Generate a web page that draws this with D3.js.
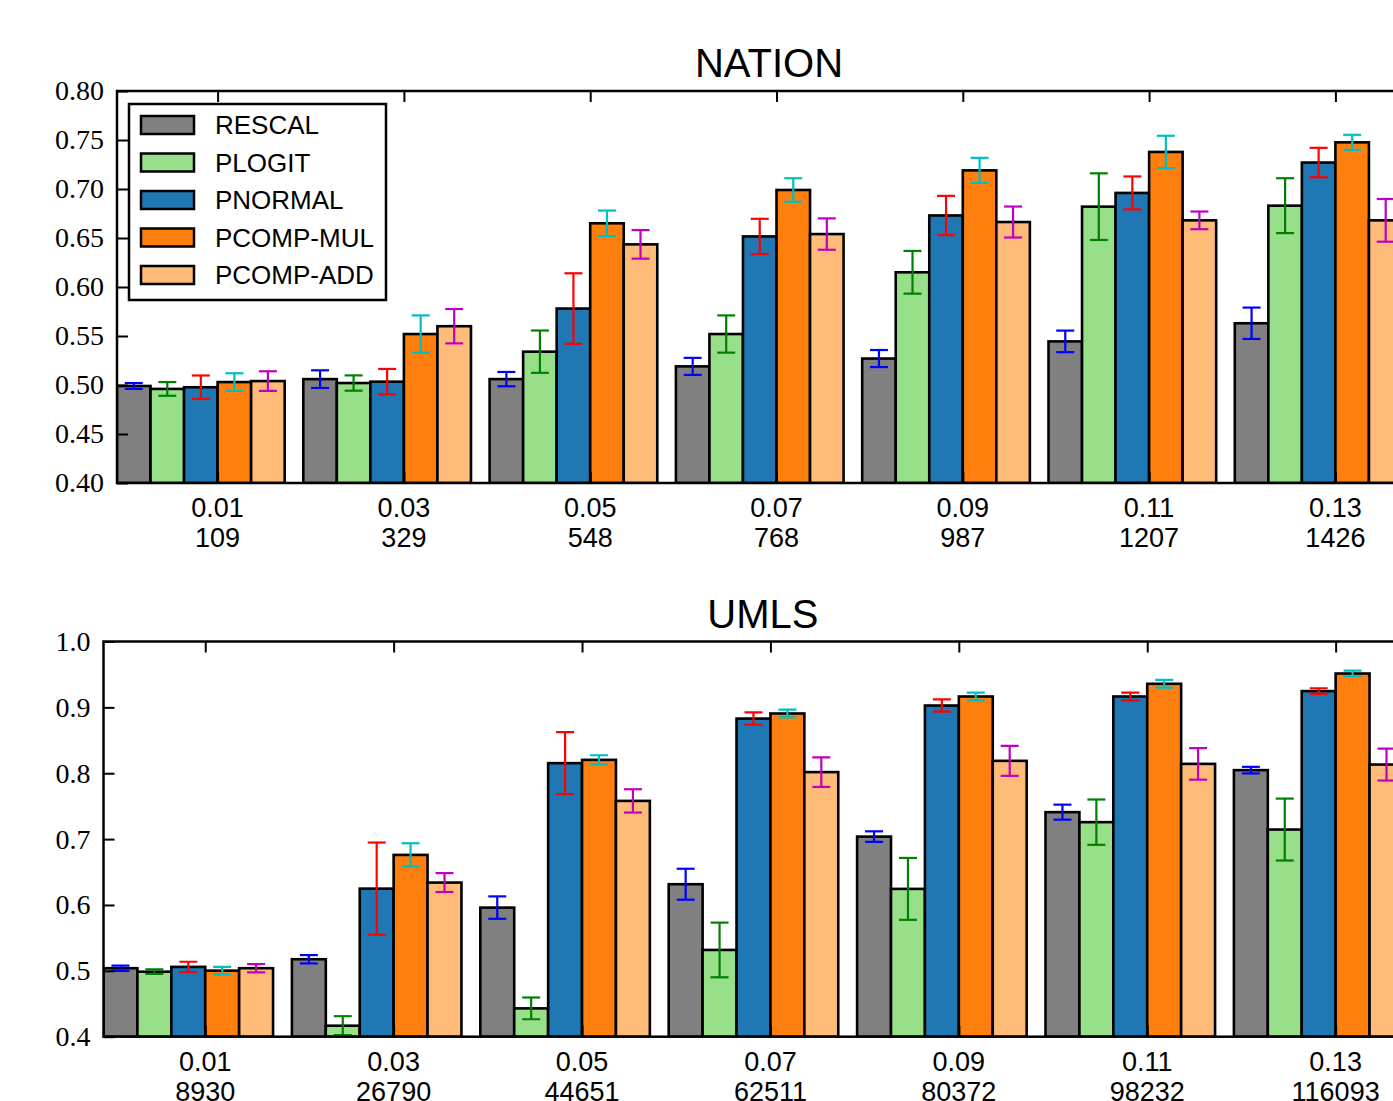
<!DOCTYPE html>
<html>
<head>
<meta charset="utf-8">
<script src="https://cdn.jsdelivr.net/npm/d3@7"></script>
<style>
  html, body { margin: 0; padding: 0; background: #fff; overflow: hidden; }
  svg { display: block; }
</style>
</head>
<body>
<svg id="chart" width="1393" height="1101"></svg>
<script>
// methods compared, one bar per method in every group
var methods = ["RESCAL", "PLOGIT", "PNORMAL", "PCOMP-MUL", "PCOMP-ADD"];
var fills = ["#808080", "#98df8a", "#1f77b4", "#ff7f0e", "#ffbb78"];
var errColors = ["#0000ff", "#008000", "#ff0000", "#00bfbf", "#bf00bf"];

// x tick labels (ratio / number of observed entries)
var ratios = ["0.01", "0.03", "0.05", "0.07", "0.09", "0.11", "0.13"];
var nationCounts = ["109", "329", "548", "768", "987", "1207", "1426"];
var umlsCounts = ["8930", "26790", "44651", "62511", "80372", "98232", "116093"];

// NATION means and errors, one array per method
var nationRescal = [0.499, 0.506, 0.506, 0.519, 0.527, 0.5445, 0.563];
var nationRescalErr = [0.003, 0.009, 0.0073, 0.0087, 0.0087, 0.011, 0.016];
var nationPlogit = [0.496, 0.502, 0.534, 0.552, 0.615, 0.682, 0.683];
var nationPlogitErr = [0.007, 0.0078, 0.0216, 0.019, 0.0218, 0.034, 0.028];
var nationPnormal = [0.4977, 0.5034, 0.578, 0.6516, 0.673, 0.696, 0.727];
var nationPnormalErr = [0.012, 0.013, 0.036, 0.018, 0.020, 0.0168, 0.015];
var nationMul = [0.503, 0.552, 0.665, 0.699, 0.719, 0.7378, 0.7476];
var nationMulErr = [0.009, 0.019, 0.013, 0.012, 0.0128, 0.0165, 0.0077];
var nationAdd = [0.504, 0.560, 0.6435, 0.654, 0.6663, 0.668, 0.668];
var nationAddErr = [0.010, 0.0175, 0.0146, 0.016, 0.0158, 0.009, 0.0218];

// UMLS means and errors
var umlsRescal = [0.504, 0.5176, 0.596, 0.6315, 0.7038, 0.7409, 0.8047];
var umlsRescalErr = [0.004, 0.0063, 0.017, 0.0235, 0.008, 0.0114, 0.005];
var umlsPlogit = [0.4987, 0.4167, 0.443, 0.5317, 0.6244, 0.7257, 0.7145];
var umlsPlogitErr = [0.0035, 0.0144, 0.0165, 0.0415, 0.047, 0.0344, 0.047];
var umlsPnormal = [0.506, 0.6248, 0.8153, 0.883, 0.9028, 0.9165, 0.9247];
var umlsPnormalErr = [0.0078, 0.070, 0.047, 0.0094, 0.0094, 0.0058, 0.0043];
var umlsMul = [0.5003, 0.676, 0.8203, 0.8907, 0.9165, 0.9358, 0.9514];
var umlsMulErr = [0.0058, 0.0177, 0.007, 0.0058, 0.0058, 0.0058, 0.0043];
var umlsAdd = [0.504, 0.634, 0.758, 0.8017, 0.8188, 0.8142, 0.8132];
var umlsAddErr = [0.0063, 0.0144, 0.0177, 0.0225, 0.0228, 0.024, 0.0243];

var nationTicks = [0.40, 0.45, 0.50, 0.55, 0.60, 0.65, 0.70, 0.75, 0.80];
var umlsTicks = [0.4, 0.5, 0.6, 0.7, 0.8, 0.9, 1.0];

var barW = 0.18;   // bar width in group units
var svg = d3.select("#chart");

function drawPanel(opt) {
	var x = d3.scaleLinear().domain([0, ratios.length]).range([opt.left, opt.right]);
	var y = d3.scaleLinear().domain(opt.yDomain).range([opt.bottom, opt.top]);
	var g = svg.append("g");
	var clipId = "clip-" + opt.name;
	g.append("clipPath").attr("id", clipId).append("rect")
		.attr("x", opt.left).attr("y", opt.top)
		.attr("width", opt.right - opt.left).attr("height", opt.bottom - opt.top);
	var plot = g.append("g").attr("clip-path", "url(#" + clipId + ")");

	opt.means.forEach(function(vals, k) {
		var s = plot.append("g");
		s.selectAll("rect").data(vals).enter().append("rect")
			.attr("x", function(d, i) { return x(i + k * barW); })
			.attr("y", function(d) { return y(d); })
			.attr("width", x(barW) - x(0))
			.attr("height", function(d) { return opt.bottom - y(d); })
			.attr("fill", fills[k])
			.attr("stroke", "#000")
			.attr("stroke-width", 2.6);
		var eb = s.selectAll("g.err").data(vals).enter().append("g")
			.attr("stroke", errColors[k]).attr("stroke-width", 2.2);
		eb.each(function(d, i) {
			var e = opt.errs[k][i];
			var cx = x(i + (k + 0.5) * barW);
			var el = d3.select(this);
			el.append("line").attr("x1", cx).attr("x2", cx).attr("y1", y(d - e)).attr("y2", y(d + e));
			el.append("line").attr("x1", cx - 9).attr("x2", cx + 9).attr("y1", y(d - e)).attr("y2", y(d - e));
			el.append("line").attr("x1", cx - 9).attr("x2", cx + 9).attr("y1", y(d + e)).attr("y2", y(d + e));
		});
	});

	var tickPos = ratios.map(function(r, i) { return i + 3 * barW; });

	// y axis with inward ticks
	var yAxis = g.append("g").attr("transform", "translate(" + opt.left + ",0)")
		.call(d3.axisLeft(y).tickValues(opt.yTicks).tickFormat(d3.format(opt.fmt))
			.tickSizeInner(-11).tickSizeOuter(0).tickPadding(13));
	yAxis.select(".domain").remove();
	yAxis.selectAll(".tick line").attr("stroke", "#000").attr("stroke-width", 2);
	yAxis.selectAll(".tick text").attr("font-family", "'Liberation Serif', 'DejaVu Serif', serif")
		.attr("font-size", 28).attr("fill", "#000");

	var rAxis = g.append("g").attr("transform", "translate(" + opt.right + ",0)")
		.call(d3.axisRight(y).tickValues(opt.yTicks).tickFormat("").tickSizeInner(-11).tickSizeOuter(0));
	rAxis.select(".domain").remove();
	rAxis.selectAll(".tick line").attr("stroke", "#000").attr("stroke-width", 2);

	var tAxis = g.append("g").attr("transform", "translate(0," + opt.top + ")")
		.call(d3.axisTop(x).tickValues(tickPos).tickFormat("").tickSizeInner(-11).tickSizeOuter(0));
	tAxis.select(".domain").remove();
	tAxis.selectAll(".tick line").attr("stroke", "#000").attr("stroke-width", 2);

	var bAxis = g.append("g").attr("transform", "translate(0," + opt.bottom + ")")
		.call(d3.axisBottom(x).tickValues(tickPos).tickFormat("").tickSizeInner(-11).tickSizeOuter(0));
	bAxis.select(".domain").remove();
	bAxis.selectAll(".tick line").attr("stroke", "#000").attr("stroke-width", 2);

	// two-line x labels
	var lab = g.append("g").attr("font-family", "'Liberation Sans', Arial, sans-serif")
		.attr("font-size", 27).attr("text-anchor", "middle").attr("fill", "#000");
	lab.selectAll("text.r").data(ratios).enter().append("text")
		.attr("x", function(d, i) { return x(tickPos[i]); })
		.attr("y", opt.bottom + 34).text(function(d) { return d; });
	lab.selectAll("text.c").data(opt.counts).enter().append("text")
		.attr("x", function(d, i) { return x(tickPos[i]); })
		.attr("y", opt.bottom + 64).text(function(d) { return d; });

	// spines
	g.append("rect").attr("x", opt.left).attr("y", opt.top)
		.attr("width", opt.right - opt.left).attr("height", opt.bottom - opt.top)
		.attr("fill", "none").attr("stroke", "#000").attr("stroke-width", 2.5);

	g.append("text").attr("x", (opt.left + opt.right) / 2).attr("y", opt.top - 14)
		.attr("text-anchor", "middle").attr("font-family", "'Liberation Sans', Arial, sans-serif")
		.attr("font-size", 40).attr("fill", "#000").text(opt.name);
	return g;
}

var nationPanel = drawPanel({
	name: "NATION", left: 117, right: 117 + 7 * 186.3, top: 91, bottom: 483,
	yDomain: [0.40, 0.80], yTicks: nationTicks, fmt: ".2f", counts: nationCounts,
	means: [nationRescal, nationPlogit, nationPnormal, nationMul, nationAdd],
	errs: [nationRescalErr, nationPlogitErr, nationPnormalErr, nationMulErr, nationAddErr]
});

drawPanel({
	name: "UMLS", left: 103.5, right: 103.5 + 7 * 188.4, top: 641.5, bottom: 1036.7,
	yDomain: [0.4, 1.0], yTicks: umlsTicks, fmt: ".1f", counts: umlsCounts,
	means: [umlsRescal, umlsPlogit, umlsPnormal, umlsMul, umlsAdd],
	errs: [umlsRescalErr, umlsPlogitErr, umlsPnormalErr, umlsMulErr, umlsAddErr]
});

// legend in the NATION panel
var legend = nationPanel.append("g");
legend.append("rect").attr("x", 129).attr("y", 104).attr("width", 257).attr("height", 196)
	.attr("fill", "#fff").attr("stroke", "#000").attr("stroke-width", 2.5);
var rows = legend.selectAll("g.row").data(methods).enter().append("g")
	.attr("transform", function(d, i) { return "translate(0," + (125 + i * 37.5) + ")"; });
rows.append("rect").attr("x", 141).attr("y", -9).attr("width", 53).attr("height", 18)
	.attr("fill", function(d, i) { return fills[i]; }).attr("stroke", "#000").attr("stroke-width", 2.5);
rows.append("text").attr("x", 215).attr("y", 9)
	.attr("font-family", "'Liberation Sans', Arial, sans-serif").attr("font-size", 26)
	.attr("fill", "#000").text(function(d) { return d; });
</script>
</body>
</html>
